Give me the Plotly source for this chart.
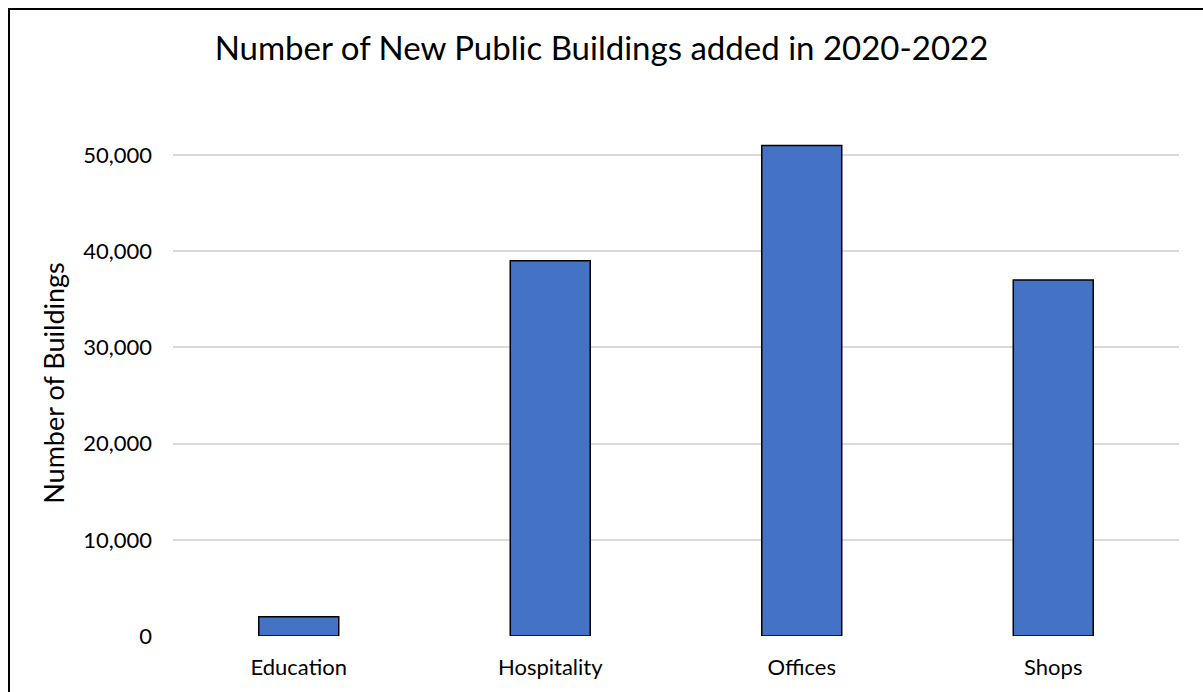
import plotly.graph_objects as go

categories = ["Education", "Hospitality", "Offices", "Shops"]
values = [2000, 39000, 51000, 37000]
y_ticks = [0, 10000, 20000, 30000, 40000, 50000]

W, H = 1203, 692
ml, mr, mt, mb = 173, 24, 130, 56
pw, ph = W - ml - mr, H - mt - mb

def px_x(p):
    return (p - ml) / pw

def px_y(p):
    return (H - mb - p) / ph

fig = go.Figure(
    go.Bar(
        x=categories,
        y=values,
        marker=dict(color="#4472C4", line=dict(color="#000000", width=1.5)),
        width=0.318,
    )
)

fig.update_layout(
    width=W,
    height=H,
    margin=dict(l=ml, r=mr, t=mt, b=mb, pad=0),
    paper_bgcolor="white",
    plot_bgcolor="white",
    font=dict(family="Lato", color="#000000"),
    showlegend=False,
    title=dict(
        text="Number of New Public Buildings added in 2020-2022",
        x=0.5, xanchor="center",
        y=1 - 48 / H, yanchor="middle", yref="container",
        font=dict(family="Lato", size=33, color="#000000"),
    ),
    shapes=[
        dict(
            type="rect", xref="paper", yref="paper",
            x0=px_x(9), x1=px_x(1215), y0=px_y(705), y1=px_y(9),
            line=dict(color="#000000", width=2), fillcolor="rgba(0,0,0,0)",
            layer="above",
        )
    ],
)

fig.update_xaxes(
    showgrid=False, showline=False, zeroline=False,
    ticks="", ticklabelstandoff=16,
    tickfont=dict(family="Lato", size=22, color="#000000"),
)
fig.update_yaxes(
    range=[0, 52600],
    tickvals=y_ticks,
    tickformat=",",
    showgrid=True, gridcolor="#d9d9d9", gridwidth=1.5,
    showline=False, zeroline=False,
    ticks="", ticklabelstandoff=20,
    tickfont=dict(family="Lato", size=22, color="#000000"),
    title=dict(text="Number of Buildings", standoff=10,
               font=dict(family="Lato", size=27, color="#000000")),
)

fig.write_html("out.html")
